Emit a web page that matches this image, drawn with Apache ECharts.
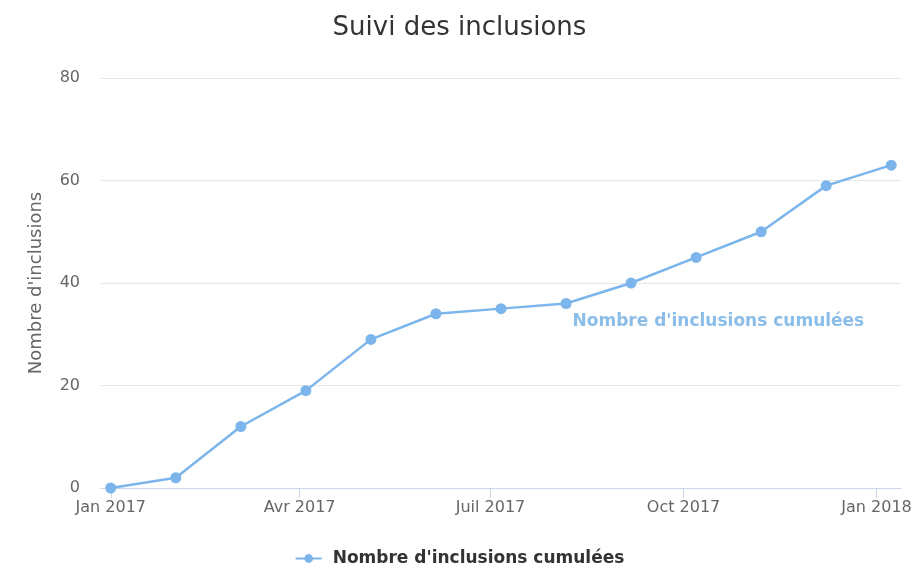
<!DOCTYPE html>
<html>
<head>
<meta charset="utf-8">
<script src="https://cdn.jsdelivr.net/npm/echarts@6/dist/echarts.min.js"></script>
<style>html,body{margin:0;padding:0;background:#fff}#c{width:919px;height:570px}</style>
</head>
<body>
<div id="c"></div>
<script>
const titleText = "Suivi des inclusions";
const seriesName = "Nombre d'inclusions cumulées";
const yAxisName = "Nombre d'inclusions";
const pointDates = ['2017-01-01','2017-02-01','2017-03-04','2017-04-04','2017-05-05','2017-06-05','2017-07-06','2017-08-06','2017-09-06','2017-10-07','2017-11-07','2017-12-08','2018-01-08'];
const inclusions = [0, 2, 12, 19, 29, 34, 35, 36, 40, 45, 50, 59, 63];
const tickDates = ['2017-01-01','2017-04-01','2017-07-01','2017-10-01','2018-01-01'];
const tickLabels = ['Jan 2017','Avr 2017','Juil 2017','Oct 2017','Jan 2018'];
const yTicks = [0, 20, 40, 60, 80];
const labelIndex = 7;

function ts(s){ const p = s.split('-').map(Number); return Date.UTC(p[0], p[1]-1, p[2]); }
const tickTs = tickDates.map(ts);
const color = '#7cb5ec';
const font = '"DejaVu Sans", sans-serif';

const data = pointDates.map((d, i) => {
  const item = { value: [ts(d), inclusions[i]] };
  if (i === labelIndex) {
    item.label = { show: true, position: 'right', distance: 1, offset: [0, 18],
      formatter: seriesName, color: '#8bbde9', fontWeight: 'bold', fontSize: 17, fontFamily: font };
  }
  return item;
});

const chart = echarts.init(document.getElementById('c'), null, { renderer: 'canvas' });
chart.setOption({
  animation: false,
  backgroundColor: '#fff',
  title: { text: titleText, left: 'center', top: 10,
    textStyle: { fontFamily: font, fontSize: 26, fontWeight: 'normal', color: '#333' } },
  grid: { left: 101, right: 18, top: 78, bottom: 82, containLabel: false },
  legend: { top: 545, left: 'center', itemWidth: 26, itemHeight: 11, itemGap: 10,
    textStyle: { fontFamily: font, fontSize: 17, fontWeight: 'bold', color: '#333', padding: [0, 0, 0, 6] },
    data: [seriesName] },
  xAxis: {
    type: 'value',
    scale: true,
    min: v => v.min - (v.max - v.min) * 0.0125,
    max: v => v.max + (v.max - v.min) * 0.0125,
    axisLine: { show: true, lineStyle: { color: '#ccd6eb', width: 1 } },
    axisTick: { show: true, length: 10, customValues: tickTs, lineStyle: { color: '#ccd6eb' } },
    axisLabel: { customValues: tickTs, margin: 12, color: '#666', fontSize: 16, fontFamily: font,
      showMinLabel: true, showMaxLabel: true,
      formatter: v => { const i = tickTs.indexOf(v); return i >= 0 ? tickLabels[i] : ''; } },
    splitLine: { show: false }
  },
  yAxis: {
    type: 'value', min: yTicks[0], max: yTicks[yTicks.length-1], interval: 20,
    name: yAxisName, nameLocation: 'middle', nameGap: 56, nameRotate: 90,
    nameTextStyle: { color: '#666', fontSize: 18, fontFamily: font },
    axisLine: { show: false }, axisTick: { show: false },
    axisLabel: { margin: 21, color: '#666', fontSize: 16, fontFamily: font },
    splitLine: { lineStyle: { color: '#e6e6e6', width: 1 } }
  },
  series: [{
    name: seriesName, type: 'line', data: data,
    symbol: 'circle', symbolSize: 11,
    lineStyle: { color: color, width: 2.5 },
    itemStyle: { color: color }
  }]
});
</script>
</body>
</html>
